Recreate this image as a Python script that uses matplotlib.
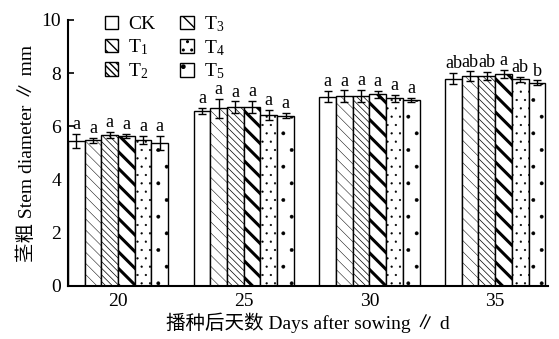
import numpy as np
import matplotlib as mpl
import matplotlib.pyplot as plt

days = ["20", "25", "30", "35"]
treatments = ["CK", "T$_1$", "T$_2$", "T$_3$", "T$_4$", "T$_5$"]

# stem diameter (mm), one list per treatment, values for day 20, 25, 30, 35
ck = [5.45, 6.58, 7.12, 7.80]
t1 = [5.48, 6.68, 7.13, 7.89]
t2 = [5.68, 6.72, 7.15, 7.89]
t3 = [5.63, 6.74, 7.20, 7.96]
t4 = [5.48, 6.43, 7.05, 7.77]
t5 = [5.38, 6.40, 7.00, 7.65]

ck_err = [0.28, 0.12, 0.22, 0.22]
t1_err = [0.10, 0.35, 0.22, 0.18]
t2_err = [0.10, 0.22, 0.22, 0.15]
t3_err = [0.08, 0.22, 0.12, 0.15]
t4_err = [0.15, 0.18, 0.12, 0.10]
t5_err = [0.25, 0.10, 0.08, 0.08]

ck_sig = ["a", "a", "a", "ab"]
t1_sig = ["a", "a", "a", "ab"]
t2_sig = ["a", "a", "a", "ab"]
t3_sig = ["a", "a", "a", "a"]
t4_sig = ["a", "a", "a", "ab"]
t5_sig = ["a", "a", "a", "b"]

values = [ck, t1, t2, t3, t4, t5]
errors = [ck_err, t1_err, t2_err, t3_err, t4_err, t5_err]
sigs = [ck_sig, t1_sig, t2_sig, t3_sig, t4_sig, t5_sig]
hatches = ["", "\\\\\\", "\\\\\\\\\\", "\\\\", "..", "."]
hatch_lw = [0.6, 0.35, 0.5, 2.2, 0.35, 0.3]

serif = ["Liberation Serif", "Noto Sans CJK SC"]
plt.rcParams["font.family"] = serif
plt.rcParams["mathtext.fontset"] = "custom"
plt.rcParams["mathtext.rm"] = "Liberation Serif"
plt.rcParams["mathtext.it"] = "Liberation Serif"

fig = plt.figure(figsize=(5.59, 3.39), dpi=100)
ax = fig.add_axes([68 / 559, 53 / 339, 480 / 559, 266 / 339])

x = np.arange(len(days))
w = 0.133
for i in range(6):
    pos = x + (i - 2.5) * w
    with mpl.rc_context({"hatch.linewidth": hatch_lw[i], "hatch.color": "black"}):
        ax.bar(pos, values[i], width=w, color="white", edgecolor="black",
               linewidth=1.0, hatch=hatches[i], label=treatments[i], zorder=2)
    ax.errorbar(pos, values[i], yerr=errors[i], fmt="none", ecolor="black",
                elinewidth=1.0, capsize=3, capthick=1.0, zorder=3)
    for j in range(len(days)):
        ax.text(pos[j], values[i][j] + errors[i][j] + 0.03, sigs[i][j],
                ha="center", va="bottom", fontsize=13)

ax.set_xlim(-0.398, 3.42)
ax.set_ylim(0, 10)
ax.set_yticks([0, 2, 4, 6, 8, 10])
ax.set_xticks(x)
ax.set_xticklabels(days)
ax.tick_params(axis="y", direction="in", length=4, width=1.2, labelsize=14, pad=5)
ax.tick_params(axis="x", length=0, labelsize=14, pad=5)
for s in ["top", "right"]:
    ax.spines[s].set_visible(False)
for s in ["left", "bottom"]:
    ax.spines[s].set_linewidth(1.5)

ax.set_ylabel("茎粗 Stem diameter ∥ mm", fontsize=14, labelpad=4)
ax.set_xlabel("播种后天数 Days after sowing ∥ d", fontsize=14, labelpad=2)

ax.legend(ncol=2, loc="upper left", bbox_to_anchor=(0.06, 1.05), frameon=False,
          fontsize=14, handlelength=0.7, handleheight=0.7, handletextpad=0.5,
          columnspacing=1.3, labelspacing=0.2, borderaxespad=0)

fig.savefig("out.png", dpi=100)
